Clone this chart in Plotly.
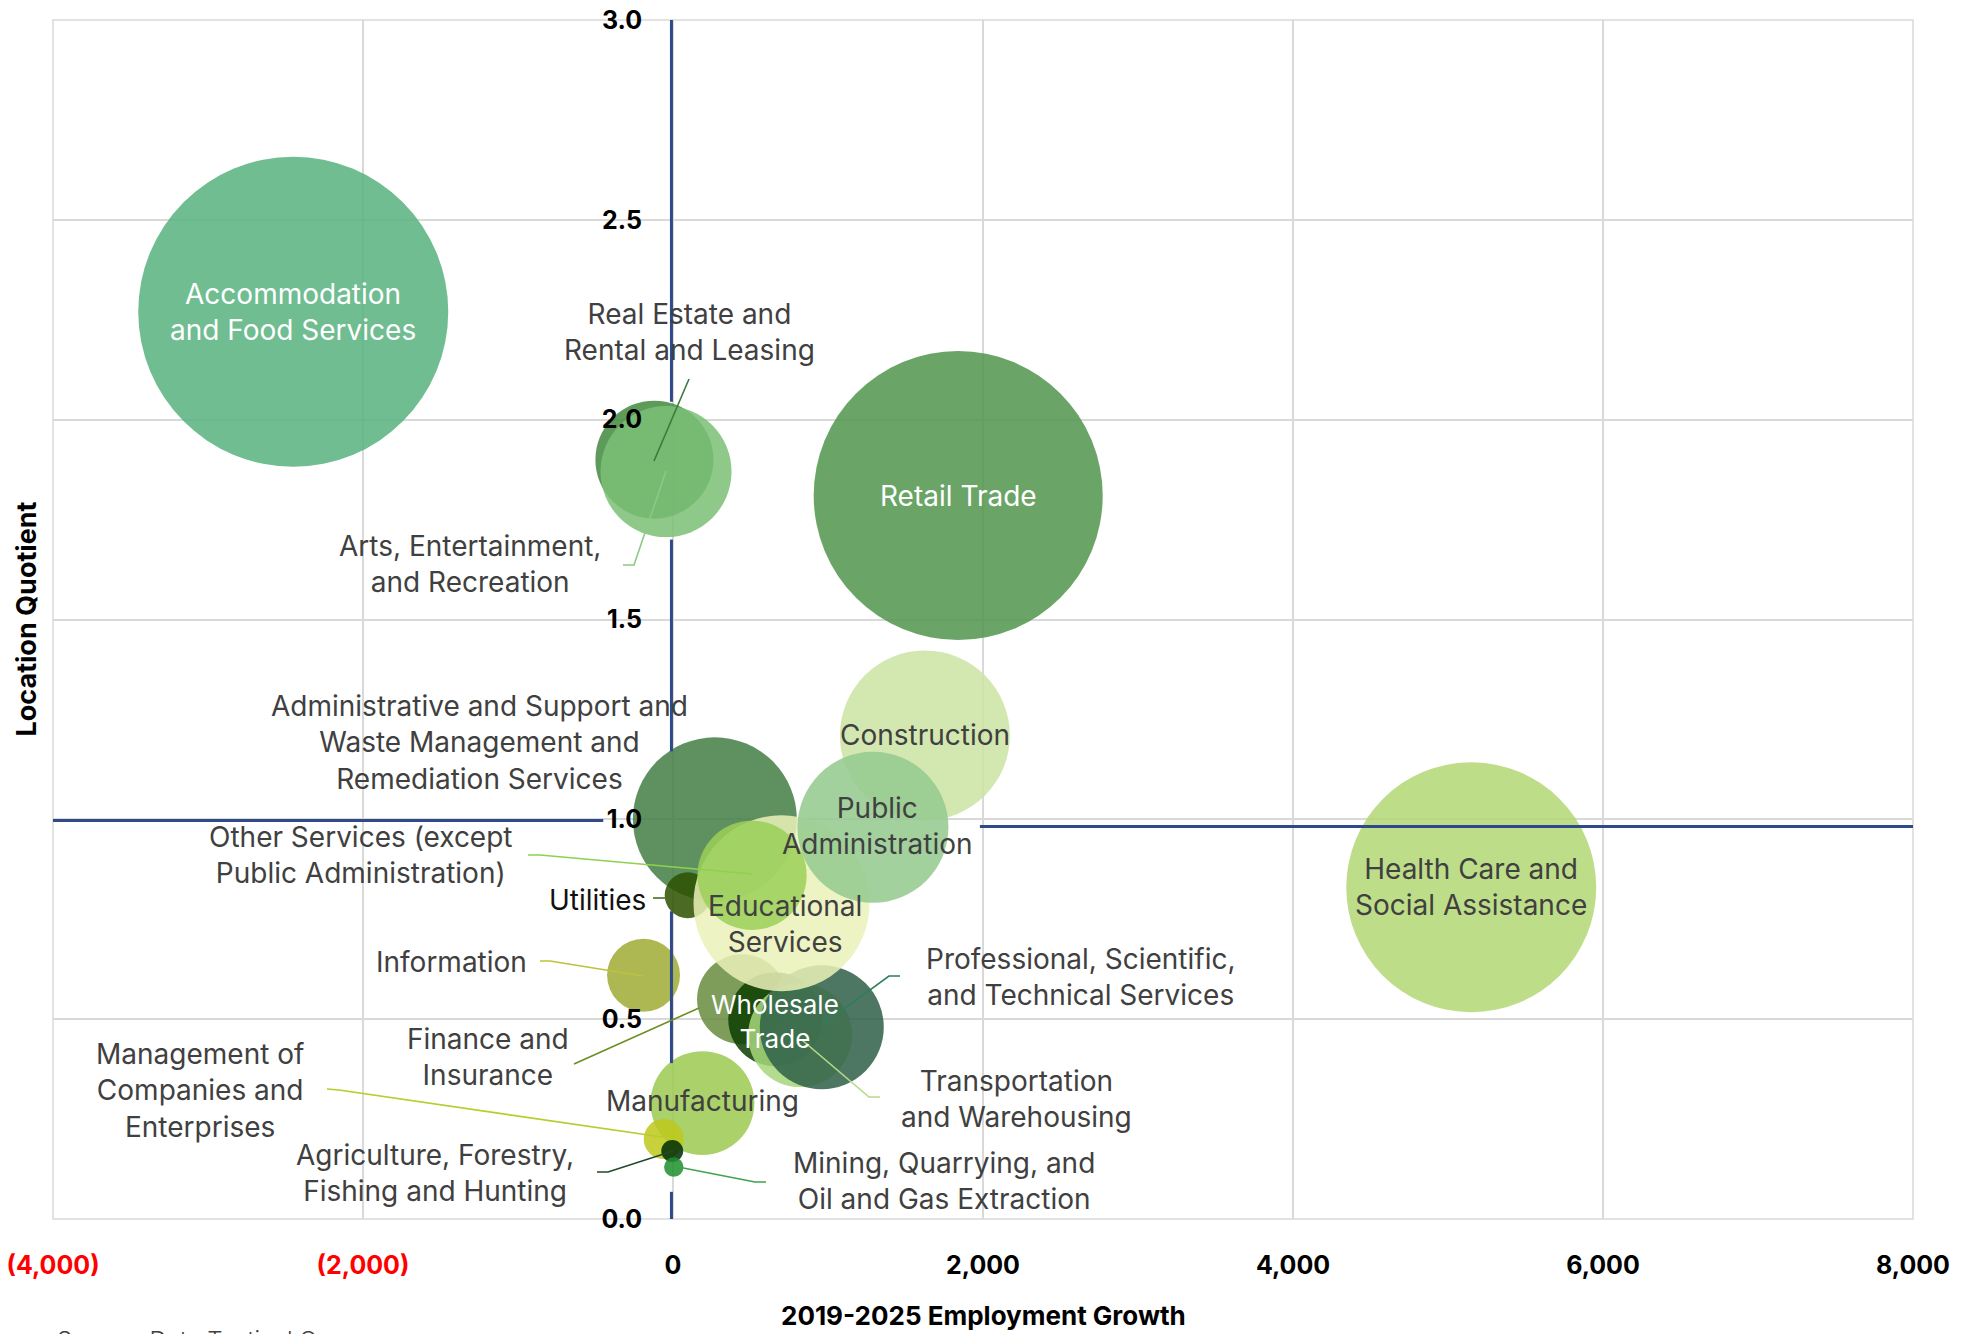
import plotly.graph_objects as go

# ---- data ----
industries = [
    "Accommodation and Food Services", "Retail Trade", "Health Care and Social Assistance",
    "Construction", "Administrative and Support and Waste Management and Remediation Services",
    "Utilities", "Finance and Insurance", "Wholesale Trade", "Transportation and Warehousing",
    "Professional, Scientific, and Technical Services", "Educational Services",
    "Public Administration", "Other Services (except Public Administration)", "Information",
    "Manufacturing", "Management of Companies and Enterprises",
    "Agriculture, Forestry, Fishing and Hunting", "Mining, Quarrying, and Oil and Gas Extraction",
    "Real Estate and Rental and Leasing", "Arts, Entertainment, and Recreation",
]
emp_growth = [-2450, 1840, 5150, 1625, 270, 95, 445, 660, 820, 960, 700, 1290, 510, -190,
              190, -60, -5, 5, -120, -45]
location_quotient = [2.27, 1.81, 0.83, 1.21, 1.00, 0.81, 0.55, 0.50, 0.46, 0.48, 0.79, 0.98,
                     0.86, 0.61, 0.29, 0.20, 0.17, 0.13, 1.90, 1.87]
employment = [12010, 10440, 7810, 3610, 3360, 265, 1010, 1105, 1350, 1920, 3870, 2850, 1490,
              665, 1350, 200, 60, 47, 1740, 2145]

x_ticks = [-4000, -2000, 0, 2000, 4000, 6000, 8000]
X_RANGE = [-4000, 8000]
Y_RANGE = [0, 3]

# ---- styling ----
bubble_colors = ["#6FBD92", "#6AA567", "#BEDD89", "#D3E8B0", "#5F9160", "#4A6B1F", "#7E9D5A",
                 "#2F5A25", "#B3DC8E", "#4D7762", "#EDF3C2", "#A3D19E", "#A9D66F", "#AEB852",
                 "#AAD16A", "#C8D03C", "#1F4A2A", "#3F9F4A", "#5E9A5B", "#8EC98A"]
leader_colors = {
    "Real Estate and Rental and Leasing": "#3D7A3A",
    "Arts, Entertainment, and Recreation": "#8CC985",
    "Other Services (except Public Administration)": "#8DD150",
    "Utilities": "#4A6B1F",
    "Information": "#B9C43A",
    "Finance and Insurance": "#6B8E23",
    "Management of Companies and Enterprises": "#B8CC2A",
    "Agriculture, Forestry, Fishing and Hunting": "#1F4A2A",
    "Mining, Quarrying, and Oil and Gas Extraction": "#3FA34D",
    "Professional, Scientific, and Technical Services": "#2E7D5B",
    "Transportation and Warehousing": "#B5DA8A",
}
ALPHA = 0.86
FONT = "Inter"
GRAY = "#404040"
NAVY = "#2E4A8B"
LBL = 28

# the page body adds an 8px margin, so the figure is 8px smaller and shifted
OFF = 8
W, H = 1961 - OFF, 1334 - OFF
M_L, M_R, M_T, M_B = 53 - OFF, 48, 20 - OFF, 115
PW, PH = W - M_L - M_R, H - M_T - M_B


def unblend(hexc, a):
    rgb = [int(hexc[i:i + 2], 16) for i in (1, 3, 5)]
    out = [max(0, min(255, round((c - (1 - a) * 255) / a))) for c in rgb]
    return "rgb(%d,%d,%d)" % tuple(out)


def px2d(px, py):
    # screen pixel -> data coordinates
    x = X_RANGE[0] + (px - OFF - M_L) / PW * (X_RANGE[1] - X_RANGE[0])
    y = Y_RANGE[1] - (py - OFF - M_T) / PH * (Y_RANGE[1] - Y_RANGE[0])
    return x, y


# label text, pixel centre (None = bubble centre), text colour, size, leader path (pixels)
labels = {
    "Accommodation and Food Services": ("Accommodation<br>and Food Services", None, "white", LBL, None),
    "Retail Trade": ("Retail Trade", None, "white", LBL, None),
    "Health Care and Social Assistance": ("Health Care and<br>Social Assistance", None, GRAY, LBL, None),
    "Construction": ("Construction", None, GRAY, LBL, None),
    "Public Administration": ("Public<br>Administration", (877, 826), GRAY, LBL, None),
    "Educational Services": ("Educational<br>Services", (785, 924), GRAY, LBL, None),
    "Wholesale Trade": ("Wholesale<br>Trade", (775, 1021), "white", 26, None),
    "Manufacturing": ("Manufacturing", (702, 1101), GRAY, LBL, None),
    "Real Estate and Rental and Leasing": ("Real Estate and<br>Rental and Leasing", (689, 332), GRAY, LBL,
                                           [(689, 379), (654, 461)]),
    "Arts, Entertainment, and Recreation": ("Arts, Entertainment,<br>and Recreation", (470, 564), GRAY, LBL,
                                            [(623, 565), (634, 565), (666, 471)]),
    "Administrative and Support and Waste Management and Remediation Services":
        ("Administrative and Support and<br>Waste Management and<br>Remediation Services", (479, 742),
         GRAY, LBL, None),
    "Other Services (except Public Administration)": ("Other Services (except<br>Public Administration)",
                                                      (361, 855), GRAY, LBL,
                                                      [(528, 855), (540, 855), (752, 874)]),
    "Utilities": ("Utilities", (597, 900), "#111111", LBL, [(653, 898), (666, 898)]),
    "Information": ("Information", (451, 962), GRAY, LBL, [(540, 961), (550, 961), (643, 976)]),
    "Finance and Insurance": ("Finance and<br>Insurance", (488, 1057), GRAY, LBL,
                              [(574, 1064), (699, 1008)]),
    "Management of Companies and Enterprises": ("Management of<br>Companies and<br>Enterprises",
                                                (200, 1090), GRAY, LBL,
                                                [(327, 1089), (339, 1090), (669, 1138)]),
    "Agriculture, Forestry, Fishing and Hunting": ("Agriculture, Forestry,<br>Fishing and Hunting",
                                                   (435, 1173), GRAY, LBL,
                                                   [(597, 1172), (608, 1172), (673, 1151)]),
    "Mining, Quarrying, and Oil and Gas Extraction": ("Mining, Quarrying, and<br>Oil and Gas Extraction",
                                                      (944, 1181), GRAY, LBL,
                                                      [(766, 1182), (755, 1182), (673, 1166)]),
    "Professional, Scientific, and Technical Services": ("Professional, Scientific,<br>and Technical Services",
                                                         (1081, 977), GRAY, LBL,
                                                         [(900, 976), (889, 976), (822, 1025)]),
    "Transportation and Warehousing": ("Transportation<br>and Warehousing", (1016, 1099), GRAY, LBL,
                                       [(880, 1097), (869, 1097), (802, 1040)]),
}

fig = go.Figure()

max_d = 310
fig.add_trace(go.Scatter(
    x=emp_growth, y=location_quotient,
    mode="markers",
    marker=dict(
        size=employment, sizemode="area", sizeref=2.0 * max(employment) / max_d ** 2,
        color=[unblend(c, ALPHA) for c in bubble_colors], opacity=ALPHA,
        line=dict(width=0),
    ),
    text=industries,
    hovertemplate="%{text}<br>Growth: %{x:,}<br>LQ: %{y:.2f}<extra></extra>",
    showlegend=False,
))

shapes = []
annotations = []

# quadrant lines (navy), drawn in visible segments as in the reference
for y0, y1 in [(2.045, 3.0), (1.17, 1.70), (0.39, 0.77), (0.0, 0.068)]:
    shapes.append(dict(type="line", xref="x", yref="y", x0=-10, x1=-10, y0=y0, y1=y1,
                       line=dict(color=NAVY, width=3), layer="above"))
shapes.append(dict(type="line", xref="x", yref="y", x0=-4000, x1=-450, y0=0.997, y1=0.997,
                   line=dict(color=NAVY, width=3), layer="above"))
shapes.append(dict(type="line", xref="x", yref="y", x0=1980, x1=8000, y0=0.982, y1=0.982,
                   line=dict(color=NAVY, width=3), layer="above"))

# plot border
shapes.append(dict(type="rect", xref="x domain", yref="y domain", x0=0, x1=1, y0=0, y1=1,
                   line=dict(color="#D9D9D9", width=1.5), layer="below"))

for i, name in enumerate(industries):
    text, pos, tcol, fsize, leader = labels[name]
    if pos is None:
        lx, ly = emp_growth[i], location_quotient[i]
    else:
        lx, ly = px2d(*pos)
    annotations.append(dict(x=lx, y=ly, xref="x", yref="y", text=text, showarrow=False,
                            xanchor="center", yanchor="middle", align="center",
                            font=dict(family=FONT, size=fsize, color=tcol)))
    if leader:
        pts = [px2d(*p) for p in leader]
        path = "M " + " L ".join("%f,%f" % p for p in pts)
        shapes.append(dict(type="path", xref="x", yref="y", path=path,
                           line=dict(color=leader_colors[name], width=1.6), layer="above"))


def paper_y(py):
    return (H - M_B - (py - OFF)) / PH


# axis titles and source note
annotations.append(dict(x=(26 - OFF - M_L) / PW, y=0.5, xref="paper", yref="paper",
                        text="<b>Location Quotient</b>", textangle=-90, showarrow=False,
                        xanchor="center", yanchor="middle",
                        font=dict(family=FONT, size=27, color="black")))
annotations.append(dict(x=0.5, y=paper_y(1315), xref="paper", yref="paper",
                        text="<b>2019-2025 Employment Growth</b>", showarrow=False,
                        xanchor="center", yanchor="middle",
                        font=dict(family=FONT, size=26, color="black")))
annotations.append(dict(x=(55 - OFF - M_L) / PW, y=paper_y(1324), xref="paper", yref="paper",
                        text="Source: Data Tactical Group", showarrow=False,
                        xanchor="left", yanchor="top",
                        font=dict(family=FONT, size=24, color=GRAY, weight=300)))

tick_text = []
for v in x_ticks:
    if v < 0:
        tick_text.append('<span style="color:#FF0000">(%s)</span>' % format(abs(v), ","))
    else:
        tick_text.append(format(v, ","))

fig.update_layout(
    width=W, height=H,
    margin=dict(l=M_L, r=M_R, t=M_T, b=M_B, autoexpand=False),
    plot_bgcolor="white", paper_bgcolor="white",
    font=dict(family=FONT),
    shapes=shapes,
    annotations=annotations,
    xaxis=dict(
        range=X_RANGE, tickvals=x_ticks, ticktext=tick_text, automargin=False,
        showgrid=True, gridcolor="#D9D9D9", gridwidth=1.5, zeroline=False,
        showline=False, ticks="", ticklabeloverflow="allow",
        tickfont=dict(family=FONT, size=25, color="black", weight="bold"),
        ticklabelstandoff=29,
    ),
    yaxis=dict(
        range=Y_RANGE, dtick=0.5, tick0=0, tickformat=".1f", automargin=False,
        anchor="free", position=(0 - X_RANGE[0]) / (X_RANGE[1] - X_RANGE[0]),
        showgrid=True, gridcolor="#D9D9D9", gridwidth=1.5, zeroline=False,
        showline=False, ticks="", ticklabeloverflow="allow",
        tickfont=dict(family=FONT, size=25, color="black", weight="bold"),
        ticklabelstandoff=31,
    ),
)

fig.write_html("out.html")
